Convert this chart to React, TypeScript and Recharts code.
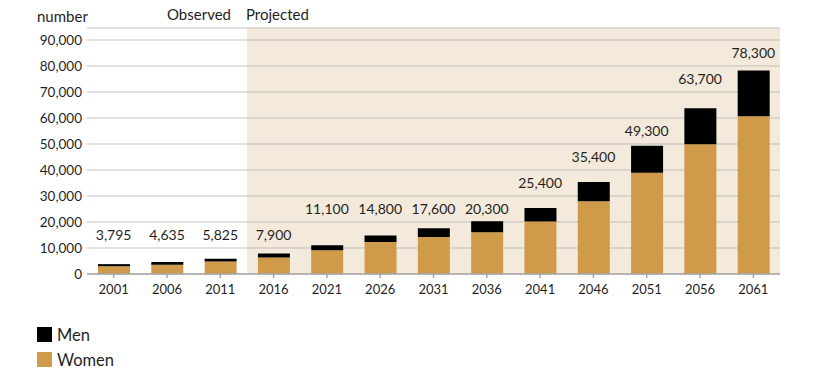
import React from 'react';
import {
  ComposedChart,
  Bar,
  Line,
  XAxis,
  YAxis,
  CartesianGrid,
  ReferenceArea,
  LabelList,
} from 'recharts';

const categories = ['2001', '2006', '2011', '2016', '2021', '2026', '2031', '2036', '2041', '2046', '2051', '2056', '2061'];
const women = [3000, 3600, 4800, 6300, 9100, 12300, 14200, 16100, 20200, 28000, 38900, 49900, 60700];
const men = [795, 1035, 1025, 1600, 2000, 2500, 3400, 4200, 5200, 7400, 10400, 13800, 17600];
const totals = [3795, 4635, 5825, 7900, 11100, 14800, 17600, 20300, 25400, 35400, 49300, 63700, 78300];
const yTicks = [0, 10000, 20000, 30000, 40000, 50000, 60000, 70000, 80000, 90000];
const projectedStart = '2016';
const projectedEnd = '2061';

const FONT = 'Lato, "Open Sans", sans-serif';
const GOLD = '#cf9b4a';
const BLACK = '#000000';
const SHADE = '#f3eadc';
const TEXT = '#1f1f1f';

// labels sit in the middle of the grid band that clears the bar top
const labelLevel = (t: number) => Math.ceil((t - 700) / 10000) * 10000 + 5000;

const data = categories.map((c, i) => ({
  year: c,
  women: women[i],
  men: men[i],
  total: totals[i],
  level: labelLevel(totals[i]),
}));

const fmt = (v: number) => v.toLocaleString('en-US');

const ValueLabel = (props: any) => {
  const { x, y, value } = props;
  return (
    <text x={x} y={y} textAnchor="middle" dominantBaseline="central" fill={TEXT} fontSize={14} fontFamily={FONT}>
      {fmt(value)}
    </text>
  );
};

export default function App() {
  return (
    <div style={{ position: 'absolute', left: 0, top: 0, width: 828, height: 375, background: '#fff', fontFamily: FONT }}>
      <ComposedChart
        width={828}
        height={375}
        data={data}
        margin={{ top: 28, right: 48, left: 0, bottom: 74 }}
      >
        <ReferenceArea
          x1={projectedStart}
          x2={projectedEnd}
          y1={0}
          y2={94600}
          fill={SHADE}
          fillOpacity={1}
          stroke="none"
          ifOverflow="visible"
          zIndex={-200}
        />
        <CartesianGrid vertical={false} stroke="#b8b8b8" strokeOpacity={0.55} strokeWidth={1.5} zIndex={-100} />
        <XAxis
          dataKey="year"
          height={27}
          tickSize={4}
          tickMargin={7}
          axisLine={{ stroke: '#a6a6a6', strokeWidth: 1.5 }}
          tickLine={{ stroke: '#a6a6a6', strokeWidth: 1.5 }}
          tick={{ fill: TEXT, fontSize: 13, fontFamily: FONT }}
          interval={0}
        />
        <YAxis
          width={87}
          domain={[0, 94600]}
          ticks={yTicks}
          tickFormatter={fmt}
          axisLine={false}
          tickLine={false}
          tickSize={0}
          tickMargin={5}
          tick={{ fill: TEXT, fontSize: 13.5, fontFamily: FONT }}
          allowDataOverflow
        />
        <Bar dataKey="women" stackId="a" fill={GOLD} barSize={32} isAnimationActive={false} />
        <Bar dataKey="men" stackId="a" fill={BLACK} barSize={32} isAnimationActive={false} />
        <Line dataKey="level" stroke="none" dot={false} activeDot={false} isAnimationActive={false} legendType="none">
          <LabelList dataKey="total" content={<ValueLabel />} />
        </Line>
      </ComposedChart>

      <div style={{ position: 'absolute', left: 37, top: 7, fontSize: 15, lineHeight: '18px', color: TEXT }}>number</div>
      <div style={{ position: 'absolute', right: 828 - 231, top: 5, fontSize: 15, lineHeight: '18px', color: TEXT }}>Observed</div>
      <div style={{ position: 'absolute', left: 246, top: 5, fontSize: 15, lineHeight: '18px', color: TEXT }}>Projected</div>

      <div style={{ position: 'absolute', left: 37, top: 322, fontSize: 16.5, color: TEXT }}>
        {[
          { name: 'Men', color: BLACK },
          { name: 'Women', color: GOLD },
        ].map((item) => (
          <div key={item.name} style={{ display: 'flex', alignItems: 'center', height: 25 }}>
            <span style={{ display: 'inline-block', width: 15, height: 15, background: item.color, marginRight: 5 }} />
            <span>{item.name}</span>
          </div>
        ))}
      </div>
    </div>
  );
}
